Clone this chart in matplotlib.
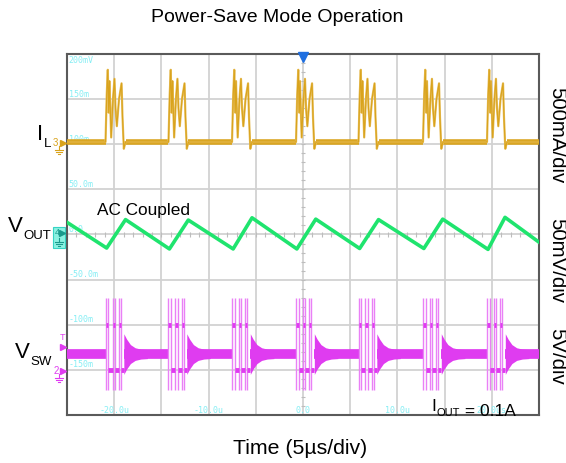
import matplotlib.pyplot as plt
from matplotlib.lines import Line2D
from matplotlib.patches import Rectangle
import numpy as np

plt.rcParams['font.family'] = ['Liberation Sans', 'DejaVu Sans']

W, H = 566, 463

# scope screen: x in us (5us/div), y in divisions (8 div tall)
burst_t = [-20.92, -14.25, -7.52, -0.74, 5.88, 12.71, 19.49]

# inductor current, one burst (offset in us, level in div)
il_base = 2.05
il_dt = [0.0, 0.13, 0.24, 0.34, 0.42, 0.60, 0.79, 0.95, 1.06, 1.20, 1.43, 1.70, 1.80, 1.94, 2.12]
il_y = [2.05, 3.1, 3.65, 2.7, 3.4, 2.15, 3.0, 3.45, 2.8, 2.4, 3.0, 3.35, 2.6, 1.9, 2.05]

# output voltage ripple (AC coupled)
vout_t = [-25.0, -20.8, -18.8, -14.15, -12.15, -7.4, -5.4, -0.65, 1.35, 6.0, 8.0, 12.8, 14.8, 19.6, 21.4, 25.0]
vout_y = [0.27, -0.30, 0.33, -0.32, 0.32, -0.32, 0.37, -0.32, 0.34, -0.31, 0.33, -0.31, 0.34, -0.33, 0.38, -0.17]

# switch node
vsw_idle, vsw_high, vsw_low = -2.65, -2.0, -3.0
vsw_top, vsw_bot = -1.4, -3.45
vsw_rise = [0.0, 0.74, 1.41]
vsw_fall = [0.29, 0.99, 1.62]
ring_start = 1.94
ring_dt = [0.0, 0.3, 0.7, 1.2, 1.8, 2.5]
ring_amp = [0.45, 0.33, 0.21, 0.14, 0.11, 0.1]

left_lbl = ['200mV', '150m', '100m', '50.0m', '0.0', '-50.0m', '-100m', '-150m']
left_pos = [3.86, 3.11, 2.11, 1.11, 0.11, -0.89, -1.89, -2.89]
bot_lbl = ['-20.0u', '-10.0u', '0.0', '10.0u', '20.0us']
bot_pos = [-20, -10, 0, 10, 20]

c_il, c_il2 = '#d9a31c', '#e8c060'
c_vo = '#1fe46e'
c_sw, c_sw2 = '#df3cf0', '#ea80f6'
c_cy = '#86eef4'

fig = plt.figure(figsize=(W / 100, H / 100), dpi=100)
ax = fig.add_axes([67 / W, 1 - 415 / H, 472 / W, 361 / H])
ax.set_xlim(-25, 25)
ax.set_ylim(-4, 4)
ax.set_xticks(np.arange(-25, 26, 5))
ax.set_yticks(np.arange(-4, 5, 1))
ax.tick_params(length=0, labelbottom=False, labelleft=False)
ax.grid(color='#d2d2d2', lw=1.3)
ax.set_axisbelow(True)
for s in ax.spines.values():
    s.set_color('#5a5a5a')
    s.set_linewidth(1.5)

# center crosshair ticks
yy = np.arange(-4, 4.01, 0.2)
ax.hlines(yy, -0.22, 0.22, color='#bdbdbd', lw=0.8, zorder=1)
xx = np.arange(-25, 25.01, 1)
ax.vlines(xx, -0.05, 0.05, color='#bdbdbd', lw=0.8, zorder=1)

# scale labels
for lbl, y in zip(left_lbl, left_pos):
    ax.text(-24.8, y, lbl, fontsize=6, family='DejaVu Sans Mono', color=c_cy, va='center', zorder=2)
for lbl, x in zip(bot_lbl, bot_pos):
    ax.text(x, -3.9, lbl, fontsize=6, family='DejaVu Sans Mono', color=c_cy, ha='center', va='center', zorder=2)

# IL trace
ilx, ily = [-25.0], [il_base]
for t0 in burst_t:
    ilx += [t0 + d for d in il_dt]
    ily += il_y
ilx.append(25.0)
ily.append(il_base)
seg_s = [-25.0] + [t0 + il_dt[-1] for t0 in burst_t]
seg_e = burst_t + [25.0]
ax.hlines([il_base] * len(seg_s), seg_s, seg_e, color=c_il, lw=4, zorder=3)
ax.plot(ilx, ily, color=c_il2, lw=1.6, zorder=3)
ax.plot(ilx, ily, color=c_il, lw=0.8, zorder=3)

# VOUT trace
ax.plot(vout_t, vout_y, color=c_vo, lw=2.6, zorder=3)

# VSW trace
idle_s = [-25.0] + [t0 + ring_start for t0 in burst_t]
idle_e = burst_t + [25.0]
ax.hlines([vsw_idle] * len(idle_s), idle_s, idle_e, color=c_sw, lw=7, zorder=3)
nxt = vsw_rise[1:] + [ring_start]
for t0 in burst_t:
    edges = [t0 + r for r in vsw_rise] + [t0 + f for f in vsw_fall]
    ax.vlines(edges, vsw_bot, vsw_top, color=c_sw2, lw=1.0, zorder=3)
    ax.hlines([vsw_high] * 3, [t0 + r for r in vsw_rise], [t0 + f for f in vsw_fall], color=c_sw, lw=3.5, zorder=4)
    ax.hlines([vsw_low] * 3, [t0 + f for f in vsw_fall], [t0 + n for n in nxt], color=c_sw, lw=3.5, zorder=4)
    rx = [t0 + ring_start + d for d in ring_dt]
    ax.fill_between(rx, [vsw_idle + a for a in ring_amp], [vsw_idle - a for a in ring_amp],
                    color=c_sw, lw=0, zorder=3)

# trigger marker
ax.plot([0], [3.93], marker='v', color='#1f6fe0', ms=7, clip_on=False, zorder=6)


def P(x, y):
    return x / W, 1 - y / H


def gnd(x, y, color):
    fig.add_artist(Line2D(*zip(P(x, y - 4), P(x, y)), color=color, lw=0.8))
    for w, dy in [(4, 0), (2.6, 2), (1.2, 4)]:
        fig.add_artist(Line2D(*zip(P(x - w, y + dy), P(x + w, y + dy)), color=color, lw=0.8))


def tri(x, y, color, ms=5):
    fig.add_artist(Line2D([x / W], [1 - y / H], marker='>', color=color, ms=ms, lw=0))


# channel markers
fig.text(*P(55, 143), '3', fontsize=7, color=c_il, ha='center', va='center')
tri(63, 143, c_il)
gnd(59, 150, c_il)

fig.add_artist(Rectangle(P(53, 248), 12 / W, 21 / H, facecolor='#8cf2e2', edgecolor='#35d4c4', lw=0.8))
fig.text(*P(57, 233), '4', fontsize=6.5, color='#1a9a8c', ha='center', va='center')
tri(62, 233, '#1a9a8c', 4)
gnd(59, 242, '#1a9a8c')

fig.text(*P(62, 337), 'T', fontsize=6.5, color=c_sw, ha='center', va='center')
tri(63, 347, c_sw)
fig.text(*P(56, 371), '2', fontsize=7, color=c_sw, ha='center', va='center')
tri(63, 371, c_sw)
gnd(59, 378, c_sw)


def label(x, y, main, sub, size=16, subsize=9.5, dy=-1.5, tail=None):
    t = fig.text(*P(x, y), main, fontsize=size, va='baseline', ha='left')
    s = ax.annotate(sub, xy=(1, 0), xycoords=t, xytext=(0.5, dy), textcoords='offset points',
                    fontsize=subsize, va='baseline', ha='left', annotation_clip=False)
    if tail:
        ax.annotate(tail, xy=(1, 0), xycoords=s, xytext=(0, -dy), textcoords='offset points',
                    fontsize=size, va='baseline', ha='left', annotation_clip=False)


label(37, 140, 'I', 'L')
label(8, 232, 'V', 'OUT')
label(15, 358, 'V', 'SW')
label(431, 411, 'I', 'OUT', size=12.5, subsize=8, dy=-1.5, tail=' = 0.1A')

fig.text(*P(97, 215), 'AC Coupled', fontsize=12.4, va='baseline', ha='left')

fig.text(*P(277, 18), 'Power-Save Mode Operation', fontsize=14, ha='center', va='center')
fig.text(*P(300.5, 449), 'Time (5µs/div)', fontsize=15.3, ha='center', va='center')

for txt, yc in [('500mA/div', 135), ('50mV/div', 260), ('5V/div', 356)]:
    fig.text(*P(557, yc), txt, fontsize=14.7, rotation=270, ha='center', va='center')

fig.savefig('out.png', dpi=100)
